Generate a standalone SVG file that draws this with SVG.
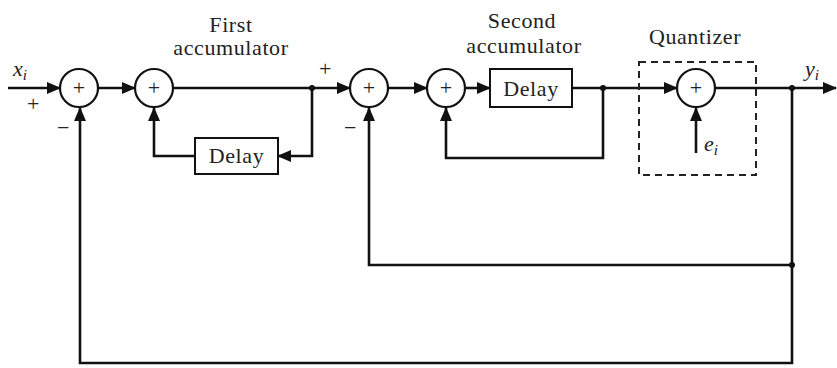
<svg xmlns="http://www.w3.org/2000/svg" width="837" height="368" viewBox="0 0 837 368">
<defs>
<marker id="ah" markerWidth="14" markerHeight="12" refX="13" refY="6" orient="auto" markerUnits="userSpaceOnUse">
<path d="M0,0 L14,6 L0,12 Z" fill="#111"/>
</marker>
<style>
.ln{fill:none;stroke:#111;stroke-width:2.6;stroke-linejoin:miter}
.sum{fill:#fff;stroke:#111;stroke-width:2.2}
.box{fill:#fff;stroke:#111;stroke-width:2}
.t{font-family:"Liberation Serif",serif;fill:#222;font-size:22px;letter-spacing:0.6px}
.pl{font-family:"Liberation Serif",serif;fill:#222;font-size:22px;text-anchor:middle}
.it{font-style:italic;letter-spacing:0}
.dot{fill:#111}
</style>
</defs>
<rect width="837" height="368" fill="#fff"/>
<g id="connectors">
<path class="ln" d="M8,88 H60" marker-end="url(#ah)"/>
<path class="ln" d="M98,88 H135" marker-end="url(#ah)"/>
<path class="ln" d="M173,88 H350" marker-end="url(#ah)"/>
<path class="ln" d="M312,88 V156 H278" marker-end="url(#ah)"/>
<path class="ln" d="M195,156 H154 V108" marker-end="url(#ah)"/>
<path class="ln" d="M388,88 H427" marker-end="url(#ah)"/>
<path class="ln" d="M465,88 H490" marker-end="url(#ah)"/>
<path class="ln" d="M572,88 H677" marker-end="url(#ah)"/>
<path class="ln" d="M603,88 V158 H446 V108" marker-end="url(#ah)"/>
<path class="ln" d="M696,153 V108" marker-end="url(#ah)"/>
<path class="ln" d="M715,88 H836" marker-end="url(#ah)"/>
<path class="ln" d="M792,88 V363 H80 V108" marker-end="url(#ah)"/>
<path class="ln" d="M792,265 H369 V108" marker-end="url(#ah)"/>
<circle class="dot" cx="312" cy="88" r="3"/>
<circle class="dot" cx="603" cy="88" r="3"/>
<circle class="dot" cx="792" cy="88" r="3"/>
<circle class="dot" cx="792" cy="265" r="3"/>
</g>
<g id="sum1"><circle class="sum" cx="79" cy="88" r="19"/><text class="pl" x="79" y="95">+</text></g>
<g id="sum2"><circle class="sum" cx="154" cy="88" r="19"/><text class="pl" x="154" y="95">+</text></g>
<g id="sum3"><circle class="sum" cx="369" cy="88" r="19"/><text class="pl" x="369" y="95">+</text></g>
<g id="sum4"><circle class="sum" cx="446" cy="88" r="19"/><text class="pl" x="446" y="95">+</text></g>
<g id="delay1"><rect class="box" x="195" y="138" width="83" height="36"/><text class="t" x="236.5" y="163" text-anchor="middle" font-size="24">Delay</text></g>
<g id="delay2"><rect class="box" x="490" y="69" width="82" height="38"/><text class="t" x="531" y="96" text-anchor="middle" font-size="24">Delay</text></g>
<g id="quantizer">
<rect x="639" y="62" width="117" height="113" fill="none" stroke="#222" stroke-width="2" stroke-dasharray="7,5"/>
<circle class="sum" cx="696" cy="88" r="19"/><text class="pl" x="696" y="95">+</text>
<text class="t" x="695" y="44" text-anchor="middle">Quantizer</text>
<text class="t it" x="704" y="151">e<tspan font-size="15" dy="4">i</tspan></text>
</g>
<g id="labels">
<text class="t" x="231" y="32" text-anchor="middle">First</text>
<text class="t" x="231" y="55" text-anchor="middle">accumulator</text>
<text class="t" x="522" y="28" text-anchor="middle">Second</text>
<text class="t" x="524" y="53" text-anchor="middle">accumulator</text>
<text class="t it" x="13" y="76">x<tspan font-size="15" dy="4">i</tspan></text>
<text class="t it" x="805" y="76">y<tspan font-size="15" dy="4">i</tspan></text>
<text class="t" x="27" y="111">+</text>
<text class="t" x="57" y="135">−</text>
<text class="t" x="319" y="76">+</text>
<text class="t" x="344" y="135">−</text>
</g>
</svg>
